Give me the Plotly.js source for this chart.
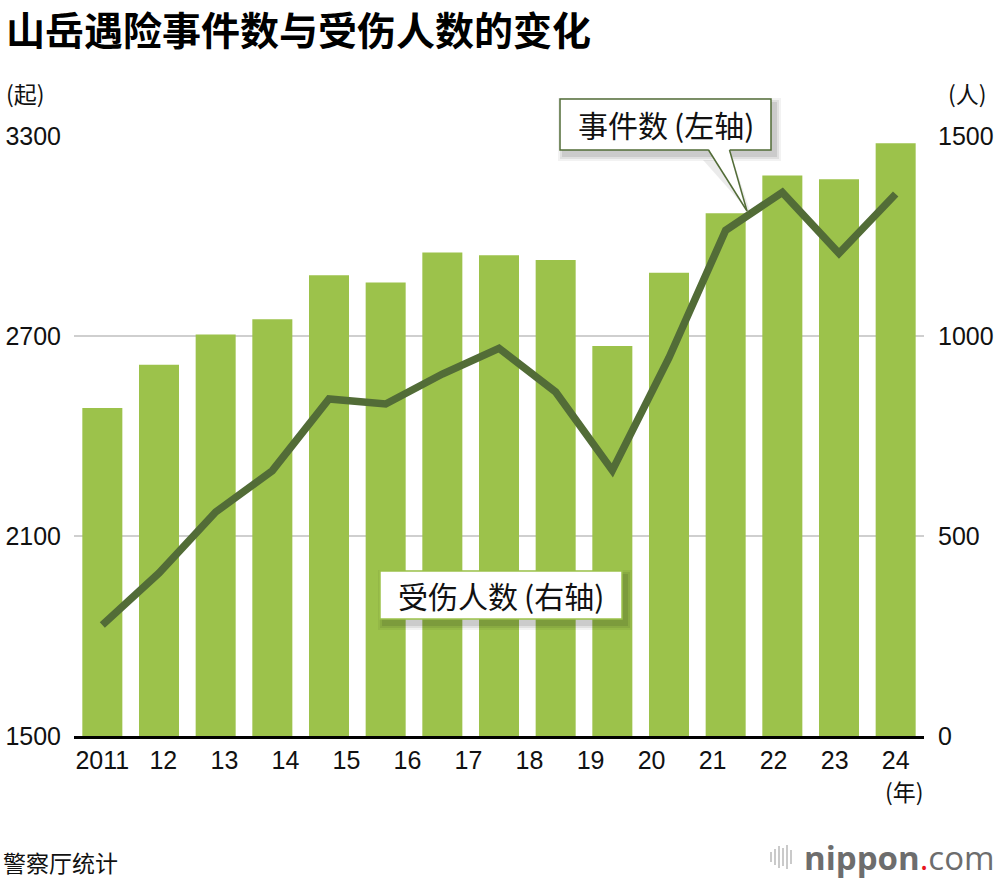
<!DOCTYPE html>
<html>
<head>
<meta charset="utf-8">
<script src="https://cdn.plot.ly/plotly-3.0.1.min.js"></script>
<style>
  html, body { margin: 0; padding: 0; background: #fff; }
  #chart { width: 1000px; height: 880px; }
</style>
</head>
<body>
<div id="chart"></div>
<script>
// tick labels along the bottom (14 of them, spread evenly over the axis)
const tickLabels = ["2011", "12", "13", "14", "15", "16", "17", "18", "19", "20", "21", "22", "23", "24"];

// 事件数 (left axis, line)
const incidents = [1833, 1989, 2172, 2296, 2511, 2496, 2586, 2663, 2532, 2297, 2635, 3017, 3131, 2948, 3126];

// 受伤人数 (right axis, bars)
const injured = [820, 928, 1004, 1042, 1152, 1134, 1209, 1202, 1190, 975, 1158, 1307, 1401, 1392, 1482];

const leftTicks = [1500, 2100, 2700, 3300];
const rightTicks = [0, 500, 1000, 1500];

const CJK = '"Noto Sans CJK SC", "Noto Sans", sans-serif';
const NUM = '"Liberation Sans", Arial, sans-serif';
const barColor = "#9cc24b";
const lineColor = "#526c37";

// plot area in pixels: x 74..924, y 136..736
const L = 74, R = 924, T = 136, B = 736;
const px = x => (x - L) / (R - L);
const py = y => (B - y) / (B - T);

const idx = injured.map((_, i) => i);
const tickPos = tickLabels.map((_, k) => k * (injured.length - 1) / (tickLabels.length - 1));

const bars = {
    type: "bar",
    x: idx,
    y: injured,
    yaxis: "y",
    marker: { color: barColor, line: { width: 0 } },
    hoverinfo: "skip"
};

const line = {
    type: "scatter",
    mode: "lines",
    x: idx,
    y: incidents,
    yaxis: "y2",
    line: { color: lineColor, width: 7.5 },
    hoverinfo: "skip"
};

// callout box helpers (pixel coords -> paper)
function rectShape(x0, y0, x1, y1, fill, lineCol, lw) {
    return {
        type: "rect", xref: "paper", yref: "paper", layer: "above",
        x0: px(x0), x1: px(x1), y0: py(y1), y1: py(y0),
        fillcolor: fill, line: { color: lineCol, width: lw }
    };
}
function shadow(x0, y0, x1, y1) {
    const out = [];
    [[6, 0.05], [4, 0.07], [2, 0.09]].forEach(([g, a]) => {
        out.push(rectShape(x0 + 4 - g, y0 + 5 - g, x1 + 4 + g, y1 + 5 + g, "rgba(0,0,0," + a + ")", "rgba(0,0,0,0)", 0));
    });
    return out;
}
function seg(x0, y0, x1, y1, col, w) {
    return {
        type: "line", xref: "paper", yref: "paper", layer: "above",
        x0: px(x0), y0: py(y0), x1: px(x1), y1: py(y1),
        line: { color: col, width: w }
    };
}
function tri(pts, fill) {
    const d = "M" + pts.map(p => px(p[0]) + "," + py(p[1])).join(" L") + " Z";
    return { type: "path", xref: "paper", yref: "paper", layer: "above", path: d, fillcolor: fill, line: { width: 0 } };
}

const shapes = [];
// box 1: 事件数(左轴)
shapes.push(...shadow(560, 99, 771, 150));
shapes.push(tri([[703, 160], [751, 214], [733, 160]], "rgba(0,0,0,0.08)"));
shapes.push(rectShape(560, 99, 771, 150, "#ffffff", lineColor, 1.5));
shapes.push(tri([[708.5, 149], [747, 211], [729.5, 149]], "#ffffff"));
shapes.push(seg(708.5, 150, 747, 211, lineColor, 1.5));
shapes.push(seg(729.5, 150, 747, 211, lineColor, 1.5));
// box 2: 受伤人数(右轴)
shapes.push(...shadow(380, 571, 622, 619));
shapes.push(rectShape(380, 571, 622, 619, "#ffffff", barColor, 1.5));
// logo sound-wave mark
[[771, 852, 862], [775, 849, 865], [779, 846, 868], [783, 848, 866], [787, 845, 869], [791, 850, 864]].forEach(([x, a, b]) => {
    shapes.push({
        type: "line", xref: "paper", yref: "paper", layer: "above",
        x0: px(x), x1: px(x), y0: py(a), y1: py(b),
        line: { color: "#bdbdbd", width: 1.6 }
    });
});

function note(text, x, y, size, opts) {
    return Object.assign({
        text: text, xref: "paper", yref: "paper", x: px(x), y: py(y),
        showarrow: false, font: { family: CJK, size: size, color: "#111" },
        xanchor: "left", yanchor: "middle"
    }, opts || {});
}

const annotations = [
    note("<b>山岳遇险事件数与受伤人数的变化</b>", 4, 28, 39, { font: { family: CJK, size: 39, color: "#000" } }),
    note("(起)", 4, 93, 23),
    note("(人)", 946, 93, 23),
    note("(年)", 904, 791, 23, { xanchor: "center" }),
    note("警察厅统计", 1, 862, 23),
    note("事件数\u2009(左轴)", 665.5, 124.5, 30, { xanchor: "center" }),
    note("受伤人数\u2009(右轴)", 501, 595, 30, { xanchor: "center" }),
    note("<b>nippon</b><span style='color:#e8151e'>.</span>com", 802, 857, 33, {
        font: { family: '"Open Sans", "Noto Sans", sans-serif', size: 33, color: "#6d6d6d" }
    })
];

const tickFont = { family: NUM, size: 25, color: "#111" };

const layout = {
    width: 1000,
    height: 880,
    margin: { l: L, r: 1000 - R, t: T, b: 880 - B, pad: 0 },
    paper_bgcolor: "#ffffff",
    plot_bgcolor: "#ffffff",
    showlegend: false,
    bargap: 0.294,
    hovermode: false,
    xaxis: {
        range: [-0.5, injured.length - 0.5],
        tickmode: "array",
        tickvals: tickPos,
        ticktext: tickLabels,
        tickfont: tickFont,
        ticks: "",
        showgrid: false,
        zeroline: false,
        showline: true,
        linecolor: "#000",
        linewidth: 2.5,
        fixedrange: true
    },
    yaxis: {
        side: "right",
        range: [0, 1500],
        tickmode: "array",
        tickvals: rightTicks,
        tickfont: tickFont,
        ticks: "",
        ticklabelstandoff: 13,
        showgrid: true,
        gridcolor: "#cfcfcf",
        gridwidth: 1.5,
        zeroline: false,
        showline: false,
        fixedrange: true
    },
    yaxis2: {
        overlaying: "y",
        side: "left",
        range: [1500, 3300],
        tickmode: "array",
        tickvals: leftTicks,
        tickfont: tickFont,
        ticks: "",
        ticklabelstandoff: 12,
        showgrid: false,
        zeroline: false,
        showline: false,
        fixedrange: true
    },
    shapes: shapes,
    annotations: annotations
};

Plotly.newPlot("chart", [bars, line], layout, { staticPlot: true, displayModeBar: false });
</script>
</body>
</html>
